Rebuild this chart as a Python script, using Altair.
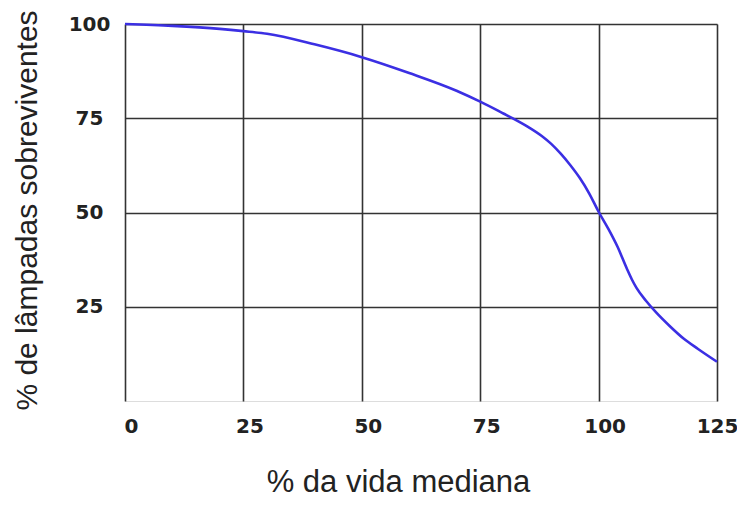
import altair as alt
import pandas as pd

# % of median life
vida = [0, 10, 20, 25, 30, 40, 50, 60, 70, 75, 80, 82, 85, 88, 90, 92, 94, 96, 98,
        100, 102, 104, 106, 107, 108, 110, 112, 115, 118, 121, 125]
# % of surviving lamps
sobrev = [100, 99.5, 98.7, 98.1, 97.4, 94.6, 91.2, 87.0, 82.3, 79.4, 76.2, 74.9,
          72.8, 70.3, 68.2, 65.6, 62.6, 59.2, 55.1, 50.2, 45.8, 40.9, 35.0, 32.3,
          30.0, 26.6, 23.7, 19.9, 16.5, 13.8, 10.4]

x_ticks = [0, 25, 50, 75, 100, 125]
y_ticks = [25, 50, 75, 100]

df = pd.DataFrame({"vida": vida, "sobrev": sobrev})

chart = alt.Chart(df).mark_line(
    color="#3b2fe3", strokeWidth=2.6, interpolate="monotone"
).encode(
    x=alt.X("vida:Q",
            scale=alt.Scale(domain=[0, 125], nice=False),
            axis=alt.Axis(values=x_ticks, title="% da vida mediana",
                          tickSize=0, domain=False, labelPadding=15,
                          labelOffset={"condition": {"test": "datum.value == 125", "value": 0},
                                       "value": 6},
                          labelFlush=False,
                          labelFont="DejaVu Sans", labelFontSize=20,
                          labelFontWeight="bold", labelColor="#222",
                          grid=True, gridColor="#333", gridWidth=1.6, gridOpacity=1,
                          titleFont="Liberation Sans", titleFontSize=31,
                          titleFontWeight="normal", titleColor="#222",
                          titleBaseline="alphabetic", titleAlign="center",
                          titleAnchor="start",
                          titleX=273, titleY=90)),
    y=alt.Y("sobrev:Q",
            scale=alt.Scale(domain=[0, 100], nice=False),
            axis=alt.Axis(values=y_ticks, title="% de lâmpadas sobreviventes",
                          tickSize=0, domain=False, labelPadding=36,
                          labelFlush=False,
                          labelAlign="center", labelBaseline="middle",
                          labelFont="DejaVu Sans", labelFontSize=20,
                          labelFontWeight="bold", labelColor="#222",
                          grid=True, gridColor="#333", gridWidth=1.6, gridOpacity=1,
                          titleFont="Liberation Sans", titleFontSize=30,
                          titleFontWeight="normal", titleColor="#222",
                          titleAngle=270, titleBaseline="alphabetic",
                          titleAlign="center", titleAnchor="start",
                          titleX=-89, titleY=186)),
).properties(
    width=592, height=377,
    autosize=alt.AutoSizeParams(type="none"),
    padding={"left": 117, "top": 16, "right": 20, "bottom": 97},
).configure_view(
    stroke="#555", strokeWidth=2
).configure(background="white")

chart.save("out.html", embed_options={"renderer": "svg", "actions": False})
